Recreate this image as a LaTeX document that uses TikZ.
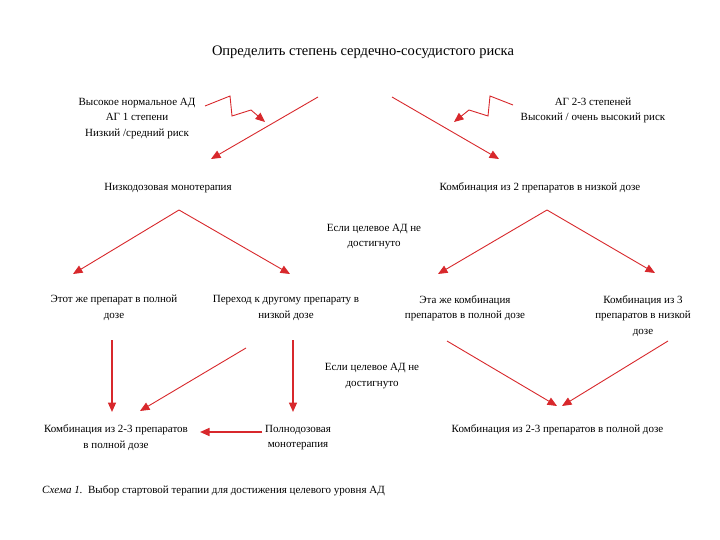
\documentclass[tikz,border=0pt]{standalone}
\usepackage{fontspec}
\setmainfont{Liberation Serif}
\usetikzlibrary{arrows.meta}
\definecolor{arr}{RGB}{216,40,44}
\tikzset{
  lbl/.style={inner sep=0pt, align=center, yshift=-2pt, font=\fontsize{11}{15.5}\selectfont},
  ttl/.style={inner sep=0pt, yshift=-2pt, font=\fontsize{14.5}{17}\selectfont},
  rarrow/.style={draw=arr, line width=0.9pt, -{Triangle[length=9.5pt,width=8pt]}},
  rthick/.style={draw=arr, line width=1.6pt, -{Triangle[length=9.5pt,width=8pt]}},
}
\begin{document}
\begin{tikzpicture}[x=1pt,y=-1pt]
\useasboundingbox[fill=white] (0,0) rectangle (720,540);
% texts
\node[ttl] (title) at (363,50) {Определить степень сердечно-сосудистого риска};
\node[lbl] (hn) at (137,116.5) {Высокое нормальное АД\\АГ 1 степени\\Низкий /средний риск};
\node[lbl] (ag) at (593,108.5) {АГ 2-3 степеней\\Высокий / очень высокий риск};
\node[lbl] (low) at (168,186) {Низкодозовая монотерапия};
\node[lbl] (combo2) at (540,186) {Комбинация из 2 препаратов в низкой дозе};
\node[lbl] (if1) at (374,234.5) {Если целевое АД не\\достигнуто};
\node[lbl] (same) at (114,306) {Этот же препарат в полной\\дозе};
\node[lbl] (switch) at (286,306) {Переход к другому препарату в\\низкой дозе};
\node[lbl] (samecombo) at (465,306) {Эта же комбинация\\препаратов в полной дозе};
\node[lbl] (combo3) at (643,314) {Комбинация из 3\\препаратов в низкой\\дозе};
\node[lbl] (if2) at (372,374) {Если целевое АД не\\достигнуто};
\node[lbl] (full23) at (116,435.5) {Комбинация из 2-3 препаратов\\в полной дозе};
\node[lbl] (fullmono) at (298,435.5) {Полнодозовая\\монотерапия};
\node[lbl] (full23r) at (557.5,428) {Комбинация из 2-3 препаратов в полной дозе};
\node[lbl, anchor=west] (cap) at (42,489) {\textit{Схема 1.}\enspace Выбор стартовой терапии для достижения целевого уровня АД};
% coordinates
\coordinate (zl0) at (205,106); \coordinate (zl1) at (230,96); \coordinate (zl2) at (232,116); \coordinate (zl3) at (251,110); \coordinate (zl4) at (265,122);
\coordinate (zr0) at (513,105); \coordinate (zr1) at (490,96); \coordinate (zr2) at (488,116); \coordinate (zr3) at (469,110); \coordinate (zr4) at (454,122);
\coordinate (bl0) at (318,97); \coordinate (bl1) at (211,159);
\coordinate (br0) at (392,97); \coordinate (br1) at (499,159);
\coordinate (la0) at (179,210); \coordinate (la1) at (73,274); \coordinate (la2) at (290,274);
\coordinate (ra0) at (547,210); \coordinate (ra1) at (438,274); \coordinate (ra2) at (655,273);
\coordinate (v1a) at (112,340); \coordinate (v1b) at (112,412);
\coordinate (d1a) at (246,348); \coordinate (d1b) at (140,411);
\coordinate (v2a) at (293,340); \coordinate (v2b) at (293,412);
\coordinate (h1a) at (262,432); \coordinate (h1b) at (200,432);
\coordinate (d2a) at (447,341); \coordinate (d2b) at (557,406);
\coordinate (d3a) at (668,341); \coordinate (d3b) at (562,406);
% arrows
\draw[rarrow] (zl0) -- (zl1) -- (zl2) -- (zl3) -- (zl4);
\draw[rarrow] (zr0) -- (zr1) -- (zr2) -- (zr3) -- (zr4);
\draw[rarrow] (bl0) -- (bl1);
\draw[rarrow] (br0) -- (br1);
\draw[rarrow] (la0) -- (la1);
\draw[rarrow] (la0) -- (la2);
\draw[rarrow] (ra0) -- (ra1);
\draw[rarrow] (ra0) -- (ra2);
\draw[rthick] (v1a) -- (v1b);
\draw[rarrow] (d1a) -- (d1b);
\draw[rthick] (v2a) -- (v2b);
\draw[rthick] (h1a) -- (h1b);
\draw[rarrow] (d2a) -- (d2b);
\draw[rarrow] (d3a) -- (d3b);
\end{tikzpicture}
\end{document}
